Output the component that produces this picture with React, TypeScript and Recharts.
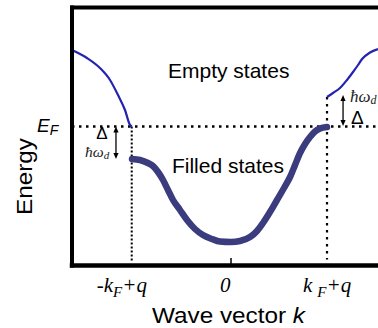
import React from 'react';
import { LineChart, Line, XAxis, YAxis, ReferenceLine, ReferenceDot } from 'recharts';

// wave vector k in units of (k_F+q), energy relative to E_F (arbitrary units)
const filledK = [-1.031, -0.948, -0.865, -0.813, -0.76, -0.708, -0.656, -0.604, -0.531, -0.458, -0.375, -0.292, -0.198, -0.115, 0, 0.094, 0.198, 0.271, 0.333, 0.406, 0.479, 0.552, 0.615, 0.667, 0.719, 0.771, 0.823, 0.875, 0.927, 1.0];
const filledE = [-0.325, -0.335, -0.365, -0.395, -0.455, -0.535, -0.635, -0.735, -0.835, -0.935, -1.025, -1.085, -1.125, -1.15, -1.155, -1.145, -1.105, -1.045, -0.965, -0.855, -0.735, -0.615, -0.505, -0.385, -0.265, -0.175, -0.105, -0.05, -0.02, -0.005];

const emptyLeftK = [-1.656, -1.5, -1.365, -1.26, -1.177, -1.104, -1.052, -1.034];
const emptyLeftE = [0.765, 0.685, 0.585, 0.465, 0.315, 0.165, 0.015, 0.0];

const emptyRightK = [1.0, 1.0625, 1.135, 1.208, 1.271, 1.323, 1.365, 1.448, 1.531];
const emptyRightE = [0.295, 0.335, 0.385, 0.465, 0.545, 0.615, 0.675, 0.74, 0.775];

const kDomain = [-1.656, 1.531];
const eDomain = [-1.39, 1.19];
const kTicks = [-1.034, 0, 1];
const kTickLabels = [['-k', 'F', '+q'], ['0'], ['k', 'F', '+q']];
const eTicks = [0];

// gap markers: [k, E top, E bottom]
const gapLeft = [-1.198, 0, -0.325];
const gapRight = [1.167, 0.315, 0.005];

// dotted guides: [k, E top, E bottom]
const guideLeft = [-1.034, 0, -1.345];
const guideRight = [1, 0.295, -1.33];

const annotations = [
  { k: -0.656, E: 0.485, kind: 'big', text: 'Empty states' },
  { k: -0.615, E: -0.465, kind: 'big', text: 'Filled states' },
  { k: -1.344, E: -0.125, kind: 'delta', text: 'Δ' },
  { k: -1.521, E: -0.305, kind: 'hwSmall', text: 'ħω' },
  { k: 1.24, E: 0.245, kind: 'hw', text: 'ħω' },
  { k: 1.25, E: 0.025, kind: 'deltaBig', text: 'Δ' },
];

const zip = (ks: number[], es: number[]) => ks.map((k, i) => ({ k, E: es[i] }));
const filled = zip(filledK, filledE);
const emptyLeft = zip(emptyLeftK, emptyLeftE);
const emptyRight = zip(emptyRightK, emptyRightE);

const sans = "'Liberation Sans', Arial, sans-serif";
const serif = "'Liberation Serif', 'Times New Roman', serif";

const XTick = (p: any) => {
  const v = p.payload.value;
  const i = kTicks.indexOf(v);
  const parts = kTickLabels[i] || [String(v)];
  const y = p.y + 26.5;
  const common = { fontFamily: serif, fontStyle: 'italic' as const, fontSize: 21, fill: '#000' };
  if (parts.length === 1) {
    return <text x={p.x - 11} y={y} {...common}>{parts[0]}</text>;
  }
  const neg = v < 0;
  return (
    <text x={p.x + (neg ? -35 : -24)} y={y} {...common}>
      <tspan>{parts[0]}</tspan>
      <tspan dx={neg ? 0 : 5} dy={5} fontSize={15}>{parts[1]}</tspan>
      <tspan dy={-5}>{parts[2]}</tspan>
    </text>
  );
};

const YTick = (p: any) => (
  <text x={p.x - 35} y={p.y + 5.5} fontFamily={sans} fontStyle="italic" fontSize={19} fill="#000">
    <tspan>E</tspan>
    <tspan dy={3} fontSize={14}>F</tspan>
  </text>
);

const arrowShape = (p: any) => {
  const x = p.x1;
  const top = Math.min(p.y1, p.y2);
  const bot = Math.max(p.y1, p.y2);
  return (
    <g>
      <line x1={x} y1={top + 3} x2={x} y2={bot - 3} stroke="#000" strokeWidth={1.3} />
      <polygon points={`${x},${top} ${x - 2.6},${top + 6} ${x + 2.6},${top + 6}`} fill="#000" />
      <polygon points={`${x},${bot} ${x - 2.6},${bot - 6} ${x + 2.6},${bot - 6}`} fill="#000" />
    </g>
  );
};

const annShape = (a: any) => (p: any) => {
  const { cx, cy } = p;
  if (a.kind === 'big')
    return <text x={cx} y={cy} fontFamily={sans} fontSize={21} fill="#000">{a.text}</text>;
  if (a.kind === 'delta')
    return <text x={cx} y={cy} textAnchor="middle" fontFamily={sans} fontSize={17} fill="#000">{a.text}</text>;
  if (a.kind === 'deltaBig')
    return <text x={cx} y={cy} fontFamily={sans} fontSize={19} fill="#000">{a.text}</text>;
  const small = a.kind === 'hwSmall';
  return (
    <text x={cx} y={cy} fontFamily={serif} fontStyle="italic" fontSize={small ? 15.5 : 17} fill="#222">
      <tspan>{a.text}</tspan>
      <tspan dy={2} fontSize={small ? 11 : 12}>d</tspan>
    </text>
  );
};

const xLabel = (p: any) => {
  const vb = p.viewBox || { x: 72, y: 265.5, width: 306 };
  return (
    <text x={vb.x + 80} y={vb.y + 57.5} fontFamily={sans} fontSize={22} fill="#000" textLength={153} lengthAdjust="spacingAndGlyphs">
      Wave vector <tspan fontStyle="italic">k</tspan>
    </text>
  );
};

const yLabel = (p: any) => {
  const vb = p.viewBox || { x: 32, y: 7.5, width: 40, height: 258 };
  const cx = vb.x + vb.width - 40;
  const cy = vb.y + 169;
  return (
    <text x={cx} y={cy} transform={`rotate(-90 ${cx} ${cy})`} textAnchor="middle" fontFamily={sans} fontSize={22} fill="#000" textLength={77} lengthAdjust="spacingAndGlyphs">
      Energy
    </text>
  );
};

export default function App() {
  return (
    <div style={{ position: 'fixed', left: 0, top: 0, width: 378, height: 328, overflow: 'hidden', background: '#fff' }}>
      <LineChart width={378} height={328} margin={{ top: 7.5, right: 0, left: 32, bottom: 22.5 }}>
        <XAxis
          dataKey="k"
          type="number"
          domain={kDomain}
          allowDataOverflow
          ticks={kTicks}
          tick={<XTick />}
          tickLine={false}
          tickSize={0}
          tickMargin={0}
          height={40}
          axisLine={{ stroke: '#000', strokeWidth: 4.5, strokeLinecap: 'square' }}
          label={xLabel}
        />
        <YAxis
          dataKey="E"
          type="number"
          domain={eDomain}
          allowDataOverflow
          ticks={eTicks}
          tick={<YTick />}
          tickLine={false}
          tickSize={0}
          tickMargin={0}
          width={40}
          axisLine={{ stroke: '#000', strokeWidth: 4, strokeLinecap: 'square' }}
          label={yLabel}
        />
        <ReferenceLine y={eDomain[1]} stroke="#000" strokeWidth={4} strokeLinecap="square" ifOverflow="visible" />
        <ReferenceLine y={0} stroke="#000" strokeWidth={2.5} strokeDasharray="2.5 4.5" />
        <ReferenceLine
          segment={[{ x: guideLeft[0], y: guideLeft[1] }, { x: guideLeft[0], y: guideLeft[2] }]}
          stroke="#000" strokeWidth={2} strokeDasharray="2 2"
        />
        <ReferenceLine
          segment={[{ x: guideRight[0], y: guideRight[1] }, { x: guideRight[0], y: guideRight[2] }]}
          stroke="#000" strokeWidth={2.2} strokeDasharray="2.5 4.5"
        />
        <ReferenceLine
          segment={[{ x: 0, y: eDomain[0] }, { x: 0, y: -1.315 }]}
          stroke="#000" strokeWidth={1.5}
        />
        <ReferenceLine
          segment={[{ x: gapLeft[0], y: gapLeft[1] }, { x: gapLeft[0], y: gapLeft[2] }]}
          shape={arrowShape}
        />
        <ReferenceLine
          segment={[{ x: gapRight[0], y: gapRight[1] }, { x: gapRight[0], y: gapRight[2] }]}
          shape={arrowShape}
        />
        <Line data={emptyLeft} dataKey="E" type="monotone" stroke="#2424b0" strokeWidth={2.2} dot={false} isAnimationActive={false} />
        <Line data={emptyRight} dataKey="E" type="monotone" stroke="#2424b0" strokeWidth={2.2} dot={false} isAnimationActive={false} />
        <Line data={filled} dataKey="E" type="monotone" stroke="#3b3c7e" strokeWidth={6.5} strokeLinecap="round" dot={false} isAnimationActive={false} />
        {annotations.map((a, i) => (
          <ReferenceDot key={i} x={a.k} y={a.E} r={0} ifOverflow="visible" shape={annShape(a)} />
        ))}
      </LineChart>
    </div>
  );
}
